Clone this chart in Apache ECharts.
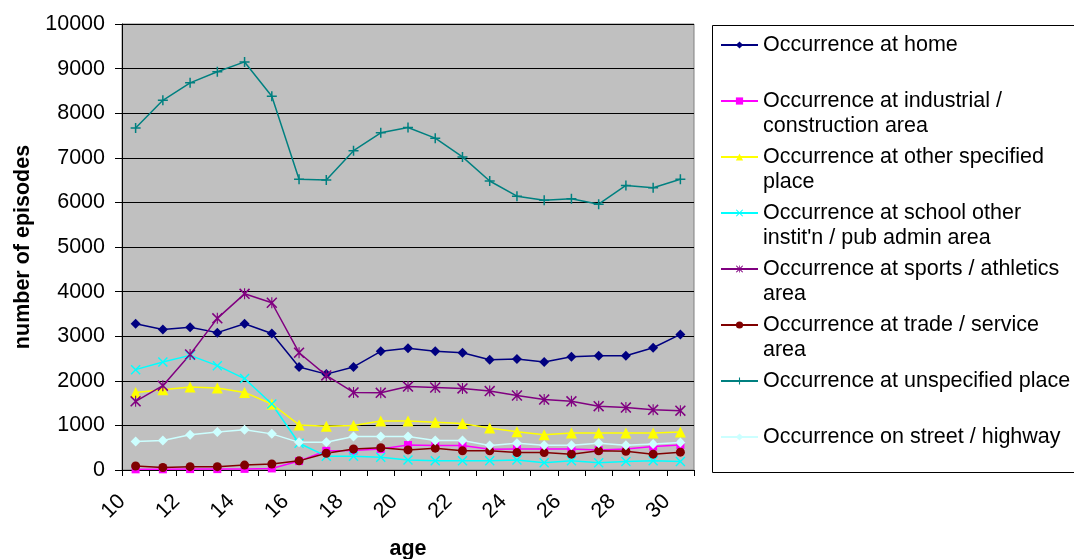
<!DOCTYPE html>
<html>
<head>
<meta charset="utf-8">
<script src="https://cdn.jsdelivr.net/npm/echarts@6/dist/echarts.min.js"></script>
<style>
  html, body { margin: 0; padding: 0; background: #ffffff; }
  #chart { width: 1074px; height: 559px; }
</style>
</head>
<body>
<div id="chart"></div>
<script>
// Ages on the horizontal axis (one category per year of age)
const ages = [10, 11, 12, 13, 14, 15, 16, 17, 18, 19, 20, 21, 22, 23, 24, 25, 26, 27, 28, 29, 30];
// Tick labels printed under the horizontal axis
const xTickLabels = [10, 12, 14, 16, 18, 20, 22, 24, 26, 28, 30];

// Episodes by place of occurrence
const atHome          = [3280, 3150, 3200, 3080, 3280, 3060, 2310, 2150, 2310, 2660, 2730, 2660, 2630, 2470, 2490, 2420, 2540, 2560, 2560, 2740, 3040];
const atIndustrial    = [15, 15, 20, 20, 25, 35, 200, 430, 435, 470, 560, 550, 550, 465, 470, 470, 470, 450, 470, 525, 560];
const atOtherPlace    = [1740, 1800, 1860, 1840, 1740, 1480, 1010, 980, 1000, 1100, 1100, 1070, 1040, 940, 860, 790, 830, 830, 830, 830, 850];
const atSchool        = [2250, 2420, 2570, 2340, 2050, 1480, 600, 310, 310, 285, 225, 210, 210, 210, 225, 165, 210, 165, 190, 210, 190];
const atSports        = [1540, 1890, 2590, 3400, 3950, 3750, 2630, 2120, 1740, 1730, 1870, 1850, 1830, 1770, 1670, 1580, 1540, 1430, 1400, 1350, 1330];
const atTrade         = [90, 55, 75, 75, 110, 135, 205, 375, 470, 500, 450, 490, 430, 430, 390, 390, 355, 430, 420, 355, 400];
const atUnspecified   = [7670, 8290, 8680, 8930, 9150, 8380, 6520, 6500, 7160, 7560, 7680, 7440, 7020, 6480, 6140, 6050, 6080, 5960, 6380, 6330, 6520];
const onStreet        = [640, 660, 790, 850, 900, 810, 620, 620, 750, 750, 750, 660, 660, 550, 600, 555, 555, 600, 555, 585, 615];

const seriesNames = [
  'Occurrence at home',
  'Occurrence at industrial / construction area',
  'Occurrence at other specified place',
  "Occurrence at school other instit'n / pub admin area",
  'Occurrence at sports / athletics area',
  'Occurrence at trade / service area',
  'Occurrence at unspecified place',
  'Occurrence on street / highway'
];
// Legend wording, wrapped onto two lines; the blank lines around each entry
// keep the marker level with the first line of text
const legendLabels = [
  ' \nOccurrence at home\n ',
  ' \nOccurrence at industrial /\nconstruction area',
  ' \nOccurrence at other specified\nplace',
  " \nOccurrence at school other\ninstit'n / pub admin area",
  ' \nOccurrence at sports / athletics\narea',
  ' \nOccurrence at trade / service\narea',
  ' \nOccurrence at unspecified place\n ',
  ' \nOccurrence on street / highway\n '
];

const FONT = "'Liberation Sans', Arial, sans-serif";

// Marker shapes drawn as filled outlines
const PLUS = 'path://M0,8.5L20,8.5L20,11.5L0,11.5Z M8.5,0L11.5,0L11.5,20L8.5,20Z';
const CROSS = 'path://M2,0L10,8L18,0L20,2L12,10L20,18L18,20L10,12L2,20L0,18L8,10L0,2Z';
const STAR = 'path://M2,0L10,8L18,0L20,2L12,10L20,18L18,20L10,12L2,20L0,18L8,10L0,2Z M9,0L11,0L11,20L9,20Z';

const styles = [
  { color: '#000080', symbol: 'diamond',  size: 10 },
  { color: '#FF00FF', symbol: 'rect',     size: 8 },
  { color: '#FFFF00', symbol: 'triangle', size: 11 },
  { color: '#00FFFF', symbol: CROSS,      size: 10 },
  { color: '#800080', symbol: STAR,       size: 11 },
  { color: '#800000', symbol: 'circle',   size: 9 },
  { color: '#008080', symbol: PLUS,       size: 10 },
  { color: '#CCFFFF', symbol: 'diamond',  size: 10 }
];
const values = [atHome, atIndustrial, atOtherPlace, atSchool, atSports, atTrade, atUnspecified, onStreet];

const chart = echarts.init(document.getElementById('chart'), null, { renderer: 'canvas' });

chart.setOption({
  animation: false,
  backgroundColor: '#ffffff',
  textStyle: { fontFamily: FONT },
  grid: {
    left: 122, right: 380, top: 24, bottom: 89,
    containLabel: false,
    outerBoundsMode: 'none',
    show: true, backgroundColor: '#C0C0C0', borderColor: '#808080', borderWidth: 1
  },
  graphic: [{
    type: 'rect', z: -1,
    shape: { x: 712.5, y: 25.5, width: 420, height: 447 },
    style: { fill: '#ffffff', stroke: '#000000', lineWidth: 1 }
  }],
  legend: {
    orient: 'vertical',
    left: 720, top: 7.5,
    padding: 0,
    itemWidth: 37, itemHeight: 9, itemGap: -19,
    selectedMode: false,
    data: seriesNames,
    formatter: name => legendLabels[seriesNames.indexOf(name)],
    textStyle: { fontFamily: FONT, fontSize: 21.5, color: '#000000', lineHeight: 25 }
  },
  xAxis: [{
    type: 'category',
    data: ages,
    boundaryGap: true,
    axisLine: { lineStyle: { color: '#000000', width: 1 } },
    axisTick: { show: true, inside: false, length: 6, interval: 0, lineStyle: { color: '#000000' } },
    axisLabel: { show: false },
    splitLine: { show: false },
    name: 'age',
    nameLocation: 'middle',
    nameGap: 68,
    nameTextStyle: { fontFamily: FONT, fontSize: 21.5, fontWeight: 'bold', color: '#000000' }
  }, {
    type: 'value',
    position: 'bottom',
    min: 10, max: 31, interval: 1,
    axisLine: { show: false },
    axisTick: { show: false },
    splitLine: { show: false },
    axisLabel: {
      rotate: 45, margin: 28,
      fontFamily: FONT, fontSize: 21.5, color: '#000000',
      showMinLabel: true, showMaxLabel: true,
      formatter: v => (xTickLabels.indexOf(v) >= 0 ? String(v) : '')
    }
  }],
  yAxis: {
    type: 'value',
    min: 0, max: 10000, interval: 1000,
    axisLine: { show: true, lineStyle: { color: '#000000', width: 1 } },
    axisTick: { show: true, inside: false, length: 7, lineStyle: { color: '#000000' } },
    splitLine: { show: true, lineStyle: { color: '#000000', width: 1 } },
    axisLabel: { margin: 17, fontFamily: FONT, fontSize: 21.5, color: '#000000', formatter: v => String(v) },
    name: 'number of episodes',
    nameLocation: 'middle',
    nameRotate: 90,
    nameGap: 88,
    nameTextStyle: { fontFamily: FONT, fontSize: 21.5, fontWeight: 'bold', color: '#000000' }
  },
  series: seriesNames.map((name, i) => ({
    name: name,
    type: 'line',
    xAxisIndex: 0,
    data: values[i],
    symbol: styles[i].symbol,
    symbolSize: styles[i].size,
    showAllSymbol: true,
    itemStyle: { color: styles[i].color },
    lineStyle: { color: styles[i].color, width: 1.5 },
    emphasis: { disabled: true }
  }))
});
</script>
</body>
</html>
